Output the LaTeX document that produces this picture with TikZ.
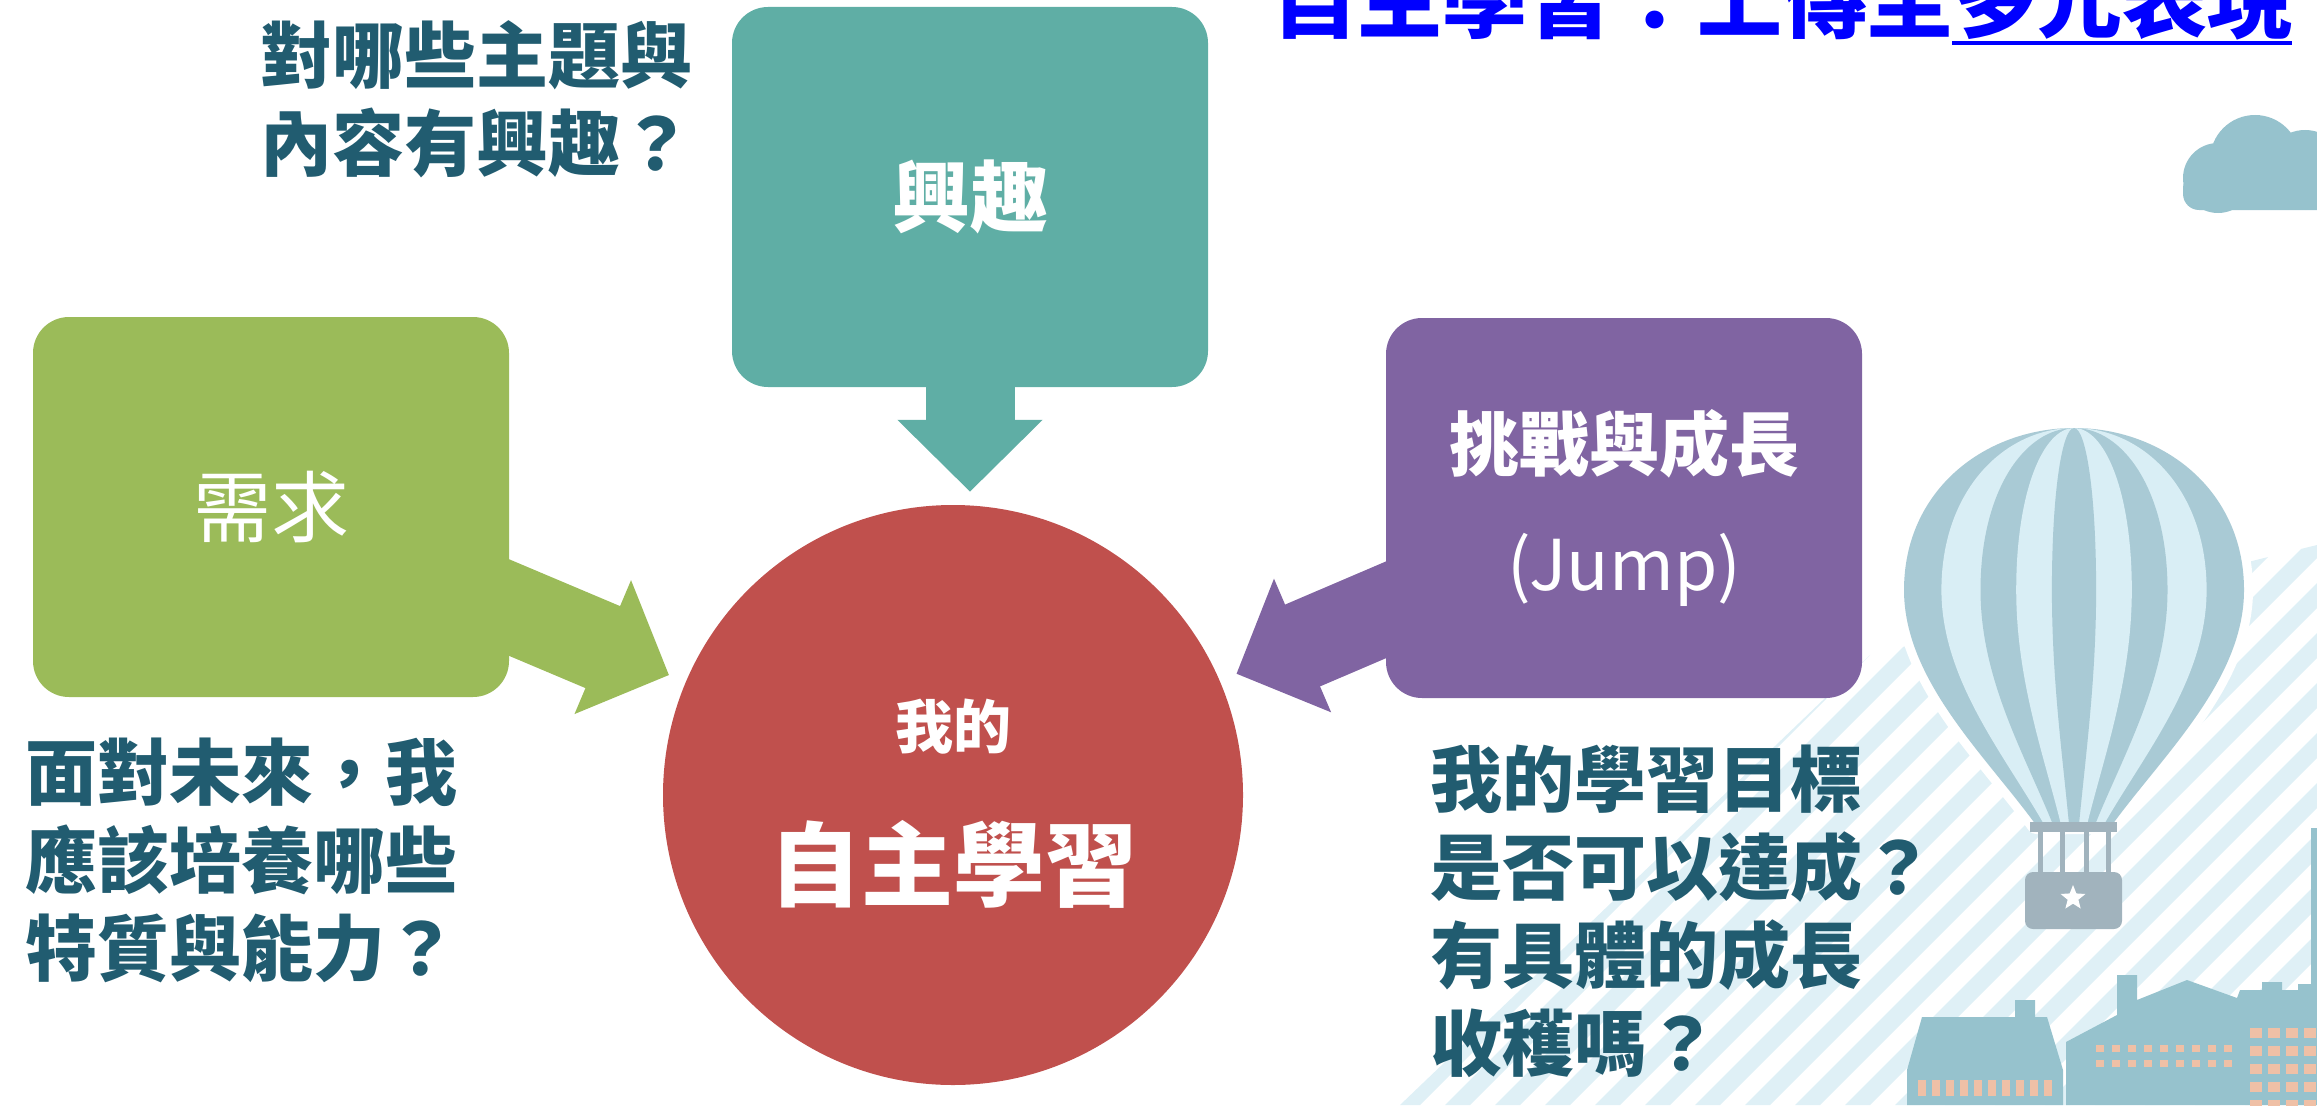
\documentclass[tikz,border=0pt]{standalone}
\usepackage{fontspec}
\usepackage{xcolor}
\usepackage{tikz}
\usetikzlibrary{positioning,arrows.meta,shapes.geometric}

\newfontfamily\twfont{Noto Sans CJK TC}

\definecolor{needgreen}{HTML}{9BBB59}
\definecolor{intteal}{HTML}{5FAEA5}
\definecolor{jumppurple}{HTML}{8064A2}
\definecolor{selfred}{HTML}{C0504D}
\definecolor{asktext}{HTML}{215C70}
\definecolor{skyblue}{HTML}{96C2CD}
\definecolor{stripeblue}{HTML}{DFF0F6}
\definecolor{envdark}{HTML}{A9CAD5}
\definecolor{envlight}{HTML}{D9EEF5}
\definecolor{basketgray}{HTML}{A1B3BD}
\definecolor{windowpeach}{HTML}{EFC0A6}

\pgfdeclarelayer{scenery}
\pgfdeclarelayer{arrows}
\pgfsetlayers{scenery,arrows,main}

\newcommand\titleline[1]{\setbox0\hbox{#1}\rlap{\rule[-13pt]{\wd0}{4pt}}\box0}
\newcommand\balloonenv{(-38,397) .. controls (-89,327) and (-170,252) .. (-170,162) .. controls (-170,62) and (-89,0) .. (0,0) .. controls (89,0) and (170,62) .. (170,162) .. controls (170,252) and (89,327) .. (38,397) -- cycle}

\begin{document}
\begin{tikzpicture}[x=1pt, y=-1pt,
    box/.style={rounded corners=36pt, minimum width=476pt, minimum height=380pt, inner sep=0pt, text=white, align=center},
    ask/.style={font=\twfont\bfseries\fontsize{72}{88}\selectfont, text=asktext, align=left, inner sep=0pt},
    flow/.style={line width=89pt, -{Triangle[length=72pt, width=141pt]}, shorten >=18pt}]
    \useasboundingbox (0,0) rectangle (2317,1105);

    \node (self) [circle, fill=selfred, minimum size=580pt, inner sep=0pt] at (953,795) {};
    \node (selfmy) [text=white, font=\twfont\bfseries\fontsize{58}{60}\selectfont] at ([yshift=68pt]self.center) {我的};
    \node (selfmain) [text=white, font=\twfont\bfseries\fontsize{92}{96}\selectfont] at ([yshift=-69pt]self.center) {自主學習};

    \node (need) [box, fill=needgreen, font=\twfont\fontsize{78}{90}\selectfont] at (271,507) {需求};
    \node (interest) [box, fill=intteal, font=\twfont\bfseries\fontsize{78}{90}\selectfont] at (970,197) {興趣};
    \node (jump) [box, fill=jumppurple, font=\twfont\fontsize{70}{120}\selectfont] at (1624,508) {{\bfseries 挑戰與成長}\\(Jump)};

    \node (askint) [ask, left=39pt of interest.north west, anchor=north east, yshift=-14pt] {對哪些主題與\\內容有興趣？};
    \node (askneed) [ask, below=41pt of need.south west, anchor=north west, xshift=-8pt] {面對未來，我\\應該培養哪些\\特質與能力？};
    \node (askjump) [ask, below=47pt of jump.south west, anchor=north west, xshift=44pt] {我的學習目標\\是否可以達成？\\有具體的成長\\收穫嗎？};

    \node (title) [anchor=base west, inner sep=0pt, text=blue, font=\twfont\bfseries\fontsize{85}{90}\selectfont] at (1272,32) {自主學習：上傳至\titleline{多元表現}};

    \begin{pgfonlayer}{arrows}
      \draw[flow, needgreen] (need.center) -- (self);
      \draw[flow, jumppurple] (jump.center) -- (self);
      \draw[flow, intteal, shorten >=13pt] (interest.center) -- (interest.center |- self.north);
    \end{pgfonlayer}

    \begin{pgfonlayer}{scenery}
      % hatched hillside
      \begin{scope}
        \clip (1400,1105) -- (1870,655) -- (2317,545) -- (2317,1105) -- cycle;
        \foreach \c in {1300,1350,...,3450}
          \fill[stripeblue] (\c,0) -- ++(25,0) -- ++(-1105,1105) -- ++(-25,0) -- cycle;
      \end{scope}
      % cloud
      \fill[skyblue, rounded corners=16pt] (2183,172) rectangle (2345,210);
      \fill[skyblue] (2218,178) circle (35) (2255,160) circle (45) (2305,170) circle (40);
      % balloon
      \begin{scope}[shift={(2074,428)}]
        \draw[white, line width=18pt, line join=round] \balloonenv;
        \fill[envdark] \balloonenv;
        \fill[envlight, xscale=0.78] \balloonenv;
        \fill[envdark, xscale=0.55] \balloonenv;
        \fill[envlight, xscale=0.34] \balloonenv;
        \fill[envdark, xscale=0.13] \balloonenv;
        \fill[basketgray] (-44,394) rectangle (43,404);
        \foreach \r in {-34,-12,12,34}
          \draw[basketgray, line width=5pt] (\r,404) -- (\r,446);
        \fill[basketgray, rounded corners=8pt] (-49,444) rectangle (48,501);
        \node (basketstar) [star, star points=5, star point ratio=2.3, fill=white, minimum size=26pt, inner sep=0pt] at (-1,470) {};
      \end{scope}
      % town
      \fill[skyblue] (1907,1105) -- (1907,1070) -- (1922,1017) -- (2015,1017) -- (2015,1000) -- (2035,1000) -- (2035,1017) -- (2047,1017) -- (2063,1070) -- (2063,1105) -- cycle;
      \fill[skyblue] (2066,1105) -- (2066,1042) -- (2117,1015) -- (2117,975) -- (2137,975) -- (2137,1000) -- (2187,980) -- (2237,998) -- (2240,990) -- (2262,990) -- (2262,982) -- (2282,982) -- (2282,990) -- (2298,990) -- (2298,984) -- (2317,984) -- (2317,1105) -- cycle;
      \fill[skyblue] (2311,828) rectangle (2317,1105);
      \foreach \x in {1918,1932,...,2050}
        \fill[windowpeach] (\x,1080) rectangle ++(8,16);
      \foreach \x in {2096,2112,...,2230} {
        \fill[windowpeach] (\x,1045) rectangle ++(8,7);
        \fill[windowpeach] (\x,1060) rectangle ++(8,7);
      }
      \foreach \x in {2250,2268,...,2310}
        \foreach \y in {1028,1046,...,1100}
          \fill[windowpeach] (\x,\y) rectangle ++(12,10);
    \end{pgfonlayer}
  \end{tikzpicture}
\end{document}
